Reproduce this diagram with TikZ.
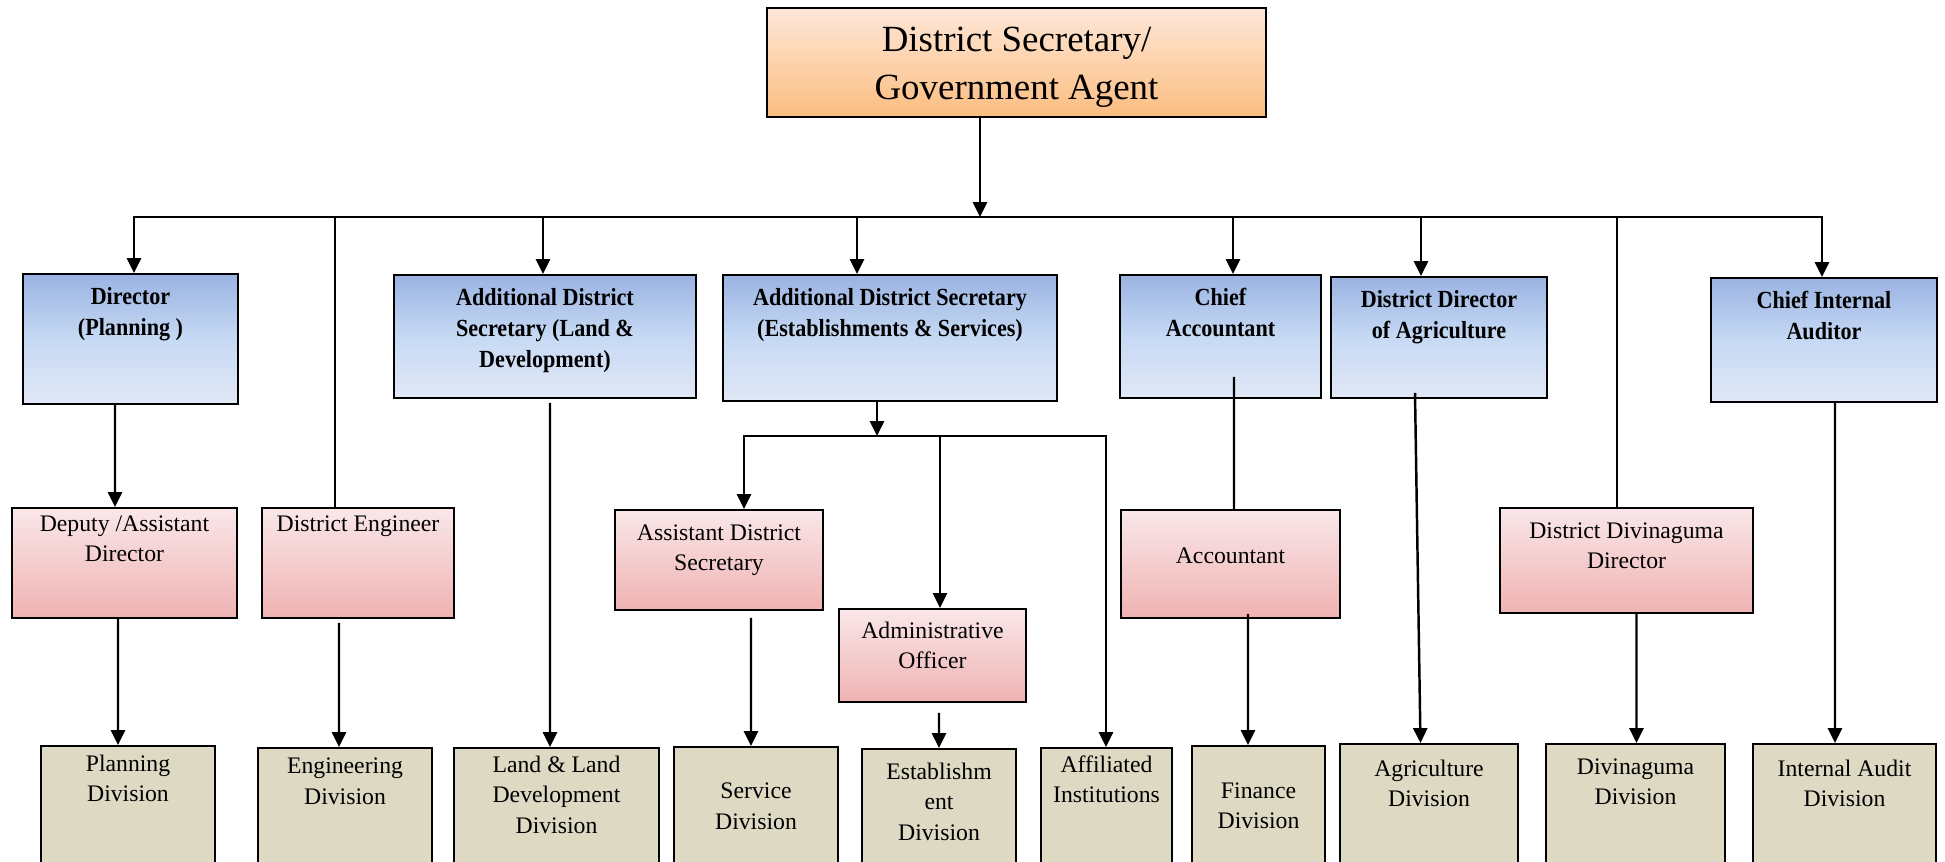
\documentclass[tikz,border=0pt]{standalone}
\usepackage{fontspec}
\setmainfont{Liberation Serif}
\newfontfamily\officerfont{Liberation Serif}[FakeStretch=0.9]
\usepackage{xcolor}
\usetikzlibrary{arrows.meta,positioning,fit}

\definecolor{headtop}{RGB}{254,231,216}
\definecolor{headbot}{RGB}{251,189,128}
\definecolor{bluetop}{RGB}{154,179,226}
\definecolor{bluemid}{RGB}{198,217,244}
\definecolor{bluebot}{RGB}{225,232,246}
\definecolor{pinktop}{RGB}{249,231,233}
\definecolor{pinkbot}{RGB}{240,178,178}
\definecolor{divtan}{RGB}{221,217,195}

\begin{document}
\begin{tikzpicture}[
    x=0.02cm, y=-0.02cm,
    box/.style={draw, line width=1.1pt, inner sep=0pt},
    head/.style={box, top color=headtop, bottom color=headbot},
    officer/.style={box, top color=bluetop, bottom color=bluebot, middle color=bluemid},
    assistant/.style={box, top color=pinktop, bottom color=pinkbot},
    division/.style={box, fill=divtan},
    headtext/.style={anchor=north, align=center, inner sep=0pt, font=\fontsize{21}{27.3}\selectfont},
    officertext/.style={anchor=north, align=center, inner sep=0pt, font=\officerfont\bfseries\fontsize{14}{17.6}\selectfont},
    plaintext/.style={anchor=north, align=center, inner sep=0pt, font=\fontsize{13.5}{17.3}\selectfont},
    arrow/.style={-{Triangle[length=8.5pt,width=8pt]}, line width=1.4pt},
    bus/.style={{Triangle[length=8.5pt,width=8pt]}-{Triangle[length=8.5pt,width=8pt]}, line width=1.4pt},
    link/.style={line width=1.4pt}
]
\clip (0,0) rectangle (1945,862);

% District Secretary
\node[head, fit={(767,8) (1266,117)}, label={[headtext, yshift=-11pt]north:{District Secretary/\\Government Agent}}] (dsga) {};

% Officers
\node[officer, fit={(23,274) (238,404)}, label={[officertext, yshift=-8pt]north:{Director\\(Planning )}}] (director) {};
\node[officer, fit={(394,275) (696,398)}, label={[officertext, yshift=-8pt]north:{Additional District\\Secretary (Land \&\\Development)}}] (ads-land) {};
\node[officer, fit={(723,275) (1057,401)}, label={[officertext, yshift=-8pt]north:{Additional District Secretary\\(Establishments \& Services)}}] (ads-est) {};
\node[officer, fit={(1120,275) (1321,398)}, label={[officertext, yshift=-8pt]north:{Chief\\Accountant}}] (chief-acc) {};
\node[officer, fit={(1331,277) (1547,398)}, label={[officertext, yshift=-8pt]north:{District Director\\of Agriculture}}] (dd-agri) {};
\node[officer, fit={(1711,278) (1937,402)}, label={[officertext, yshift=-8pt]north:{Chief Internal\\Auditor}}] (chief-audit) {};

% Assistants
\node[assistant, fit={(12,508) (237,618)}, label={[plaintext, yshift=-4.8pt]north:{Deputy /Assistant\\Director}}] (deputy) {};
\node[assistant, fit={(262,508) (454,618)}, label={[plaintext, yshift=-4.8pt]north:{District Engineer}}] (dist-eng) {};
\node[assistant, fit={(615,510) (823,610)}, label={[plaintext, yshift=-8.8pt]north:{Assistant District\\Secretary}}] (asst-sec) {};
\node[assistant, fit={(839,609) (1026,702)}, label={[plaintext, yshift=-7.7pt]north:{Administrative\\Officer}}] (admin) {};
\node[assistant, fit={(1121,510) (1340,618)}, font=\fontsize{13.5}{17.3}\selectfont] (accountant) {Accountant};
\node[assistant, fit={(1500,508) (1753,613)}, label={[plaintext, yshift=-8.8pt]north:{District Divinaguma\\Director}}] (dd-divi) {};

% Divisions
\node[division, fit={(41,746) (215,880)}, label={[plaintext, yshift=-5.4pt]north:{Planning\\Division}}] (planning) {};
\node[division, fit={(258,748) (432,880)}, label={[plaintext, yshift=-6pt]north:{Engineering\\Division}}] (engineering) {};
\node[division, fit={(454,748) (659,880)}, label={[plaintext, yshift=-4.8pt]north:{Land \& Land\\Development\\Division}}] (land) {};
\node[division, fit={(674,747) (838,880)}, label={[plaintext, yshift=-20.8pt]north:{Service\\Division}}] (service) {};
\node[division, fit={(862,749) (1016,880)}, label={[plaintext, yshift=-8.3pt]north:{Establishm\\ent\\Division}}] (establishment) {};
\node[division, fit={(1041,748) (1172,880)}, label={[plaintext, yshift=-4.8pt]north:{Affiliated\\Institutions}}] (affiliated) {};
\node[division, fit={(1192,746) (1325,880)}, label={[plaintext, yshift=-21.3pt]north:{Finance\\Division}}] (finance) {};
\node[division, fit={(1340,744) (1518,880)}, label={[plaintext, yshift=-9.4pt]north:{Agriculture\\Division}}] (agriculture) {};
\node[division, fit={(1546,744) (1725,880)}, label={[plaintext, yshift=-8.8pt]north:{Divinaguma\\Division}}] (divinaguma) {};
\node[division, fit={(1753,744) (1936,880)}, label={[plaintext, yshift=-9.4pt]north:{Internal Audit\\Division}}] (audit) {};

% Bus points
\coordinate (bus-l) at (134,217);
\coordinate (bus-m) at (980,217);
\coordinate (bus-r) at (1822,217);
\coordinate (tap-eng) at (335,217);
\coordinate (tap-land) at (543,217);
\coordinate (tap-est) at (857,217);
\coordinate (tap-acc) at (1233,217);
\coordinate (tap-agri) at (1421,217);
\coordinate (tap-divi) at (1617,217);
\coordinate (sub-l) at (744,436);
\coordinate (sub-m) at (877,436);
\coordinate (sub-r) at (1106,436);
\coordinate (tap-admin) at (940,436);

% Arrows
\draw[arrow] (dsga.south -| bus-m) -- (bus-m);
\draw[bus] (bus-l |- director.north) -- (bus-l) -- (bus-r) -- (bus-r |- chief-audit.north);
\draw[link] (tap-eng) -- (tap-eng |- dist-eng.north);
\draw[arrow] (tap-land) -- (tap-land |- ads-land.north);
\draw[arrow] (tap-est) -- (tap-est |- ads-est.north);
\draw[arrow] (tap-acc) -- (tap-acc |- chief-acc.north);
\draw[arrow] (tap-agri) -- (tap-agri |- dd-agri.north);
\draw[link] (tap-divi) -- (tap-divi |- dd-divi.north);

\draw[arrow] ([xshift=-0.31cm]director.south) -- ([xshift=-0.19cm]deputy.north);
\draw[arrow] ([xshift=-0.13cm]deputy.south) -- ([xshift=-0.2cm]planning.north);
\draw[arrow] ([xshift=-0.38cm, yshift=-0.08cm]dist-eng.south) -- ([xshift=-0.12cm]engineering.north);
\draw[arrow] ([xshift=0.1cm, yshift=-0.08cm]ads-land.south) -- ([xshift=-0.13cm]land.north);

\draw[arrow] (ads-est.south -| sub-m) -- (sub-m);
\draw[bus] (sub-l |- asst-sec.north) -- (sub-l) -- (sub-r) -- (sub-r |- affiliated.north);
\draw[arrow] (tap-admin) -- (tap-admin |- admin.north);
\draw[arrow] ([xshift=0.64cm, yshift=-0.14cm]asst-sec.south) -- ([xshift=-0.1cm]service.north);
\draw[arrow] ([xshift=0.13cm, yshift=-0.2cm]admin.south) -- (establishment.north);

\draw[link] ([xshift=0.27cm, yshift=0.44cm]chief-acc.south) -- ([xshift=0.07cm]accountant.north);
\draw[arrow] ([xshift=0.35cm, yshift=0.1cm]accountant.south) -- ([xshift=-0.21cm]finance.north);
\draw[arrow] ([xshift=-0.48cm, yshift=0.12cm]dd-agri.south) -- ([xshift=-0.17cm]agriculture.north);
\draw[arrow] ([xshift=0.2cm]dd-divi.south) -- ([xshift=0.02cm]divinaguma.north);
\draw[arrow] ([xshift=0.22cm]chief-audit.south) -- ([xshift=-0.19cm]audit.north);

\end{tikzpicture}
\end{document}
